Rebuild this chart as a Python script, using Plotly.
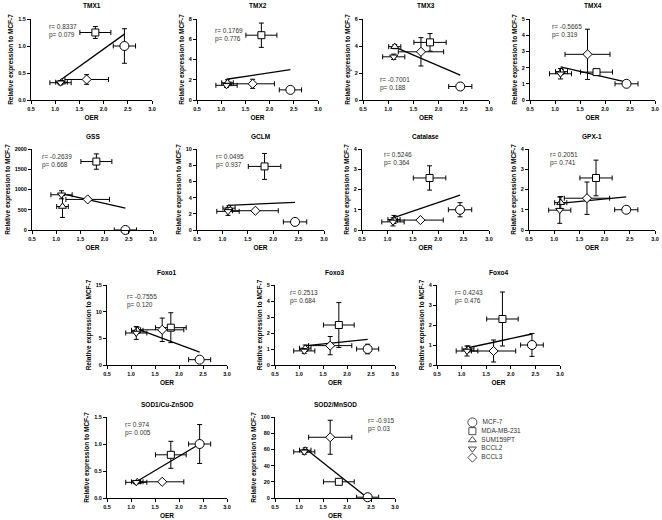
import plotly.graph_objects as go

# cell lines, in legend order
cell_lines = ["MCF-7", "MDA-MB-231", "SUM159PT", "BCCL2", "BCCL3"]
oer = [2.43, 1.83, 1.13, 1.11, 1.65]
oer_err = [0.23, 0.32, 0.12, 0.22, 0.45]

genes = ["TMX1", "TMX2", "TMX3", "TMX4", "GSS", "GCLM", "Catalase", "GPX-1",
         "Foxo1", "Foxo3", "Foxo4", "SOD1/Cu-ZnSOD", "SOD2/MnSOD"]

# relative expression (mean, error) per gene, cell lines in the order above
tmx1 = [1.0, 1.25, 0.33, 0.32, 0.38]
tmx1_err = [0.32, 0.11, 0.03, 0.04, 0.09]
tmx2 = [1.0, 6.4, 1.7, 1.45, 1.6]
tmx2_err = [0.1, 1.2, 0.3, 0.2, 0.45]
tmx3 = [1.0, 4.27, 3.95, 3.2, 3.57]
tmx3_err = [0.05, 0.65, 0.15, 0.2, 1.05]
tmx4 = [1.0, 1.72, 1.75, 1.62, 2.82]
tmx4_err = [0.05, 0.12, 0.15, 0.32, 1.55]
gss = [1, 1690, 580, 870, 755]
gss_err = [0, 190, 270, 100, 20]
gclm = [1.0, 7.85, 2.7, 2.3, 2.38]
gclm_err = [0.05, 1.6, 0.3, 0.5, 0.1]
catalase = [1.0, 2.57, 0.52, 0.4, 0.49]
catalase_err = [0.35, 0.6, 0.2, 0.2, 0.03]
gpx1 = [1.0, 2.57, 1.35, 0.98, 1.57]
gpx1_err = [0.05, 0.88, 0.3, 0.65, 0.8]
foxo1 = [1.0, 7.0, 6.5, 6.0, 6.6]
foxo1_err = [0.2, 2.8, 0.6, 1.2, 2.2]
foxo3 = [1.0, 2.5, 1.05, 0.88, 1.21]
foxo3_err = [0.3, 1.4, 0.2, 0.15, 0.57]
foxo4 = [1.0, 2.3, 0.8, 0.7, 0.7]
foxo4_err = [0.57, 1.35, 0.15, 0.25, 0.55]
sod1 = [1.0, 0.8, 0.3, 0.29, 0.3]
sod1_err = [0.36, 0.25, 0.02, 0.03, 0.01]
sod2 = [1, 20, 59, 57, 75]
sod2_err = [0.5, 2, 3, 3, 21]

expr = [tmx1, tmx2, tmx3, tmx4, gss, gclm, catalase, gpx1, foxo1, foxo3, foxo4, sod1, sod2]
expr_err = [tmx1_err, tmx2_err, tmx3_err, tmx4_err, gss_err, gclm_err, catalase_err,
            gpx1_err, foxo1_err, foxo3_err, foxo4_err, sod1_err, sod2_err]

# regression line value at lowest and highest OER
fit_start = [0.37, 2.05, 3.95, 2.05, 900, 3.05, 0.6, 1.31, 6.8, 1.2, 0.85, 0.3, 62]
fit_end = [1.22, 3.0, 1.85, 1.1, 540, 3.4, 1.72, 1.64, 2.4, 1.6, 1.55, 1.0, 0]

r_values = ["0.8337", "0.1769", "-0.7001", "-0.5665", "-0.2639", "0.0495", "0.5246",
            "0.2051", "-0.7555", "0.2513", "0.4243", "0.974", "-0.915"]
p_values = ["0.079", "0.776", "0.188", "0.319", "0.668", "0.937", "0.364",
            "0.741", "0.120", "0.684", "0.476", "0.005", "0.03"]

y_max = [1.5, 8, 6, 5, 2000, 10, 4, 4, 15, 5, 4, 1.5, 100]
y_step = [0.5, 2, 2, 1, 500, 2, 1, 1, 5, 1, 1, 0.5, 20]

# ---- styling ----
W, H = 662, 520
# panel boxes in pixels: left, right, top, bottom
boxes = [(31, 152, 19, 100), (197, 318, 19, 100), (363, 489, 19, 100), (530, 655, 19, 100),
         (32, 153, 149, 230), (197, 324, 149, 230), (362, 489, 149, 230), (529, 655, 149, 230),
         (107, 227, 285, 365), (275, 395, 285, 365), (437, 560, 285, 365),
         (107, 227, 417, 498), (275, 395, 417, 498)]
# where the r / p text sits (axis-domain coords)
rp_pos = [(0.13, 0.98), (0.13, 0.93), (0.12, 0.32), (0.16, 0.97), (0.07, 0.97), (0.13, 0.97),
          (0.16, 1.0), (0.15, 1.0), (0.15, 0.93), (0.11, 0.98), (0.13, 0.98), (0.13, 0.98),
          (0.76, 1.02)]

symbols = ["circle", "square", "triangle-up", "triangle-down", "diamond"]
sizes = [9, 7, 7, 7, 7]
FONT = "Liberation Sans, Arial, sans-serif"

fig = go.Figure()
annotations = []

for i, gene in enumerate(genes):
    n = "" if i == 0 else str(i + 1)
    xa, ya = "x" + n, "y" + n
    l, r, t, b = boxes[i]

    # regression line
    fig.add_trace(go.Scatter(
        x=[min(oer), max(oer)], y=[fit_start[i], fit_end[i]],
        mode="lines", line=dict(color="black", width=1.3),
        xaxis=xa, yaxis=ya, showlegend=False, hoverinfo="skip"))

    for k in range(len(cell_lines)):
        fig.add_trace(go.Scatter(
            x=[oer[k]], y=[expr[i][k]], mode="markers",
            name=cell_lines[k], xaxis=xa, yaxis=ya, showlegend=False,
            cliponaxis=False,
            error_x=dict(type="data", array=[oer_err[k]], color="black", thickness=1, width=2.5),
            error_y=dict(type="data", array=[expr_err[i][k]], color="black", thickness=1, width=2.5),
            marker=dict(symbol=symbols[k], size=sizes[k], color="white",
                        line=dict(color="black", width=1))))

    fig.layout["xaxis" + n] = dict(
        domain=[l / W, r / W], anchor=ya, range=[0.5, 3.0], tick0=0.5, dtick=0.5,
        tickformat=".1f", showline=True, linecolor="black", linewidth=1,
        ticks="outside", ticklen=3, tickwidth=1, tickcolor="black",
        showgrid=False, zeroline=False, automargin=False,
        tickfont=dict(size=5.5, color="black", family=FONT, weight="bold"),
        title=dict(text="OER", standoff=4,
                   font=dict(size=6.5, color="black", family=FONT, weight="bold")))
    fig.layout["yaxis" + n] = dict(
        domain=[1 - b / H, 1 - t / H], anchor=xa, range=[0, y_max[i]], tick0=0,
        dtick=y_step[i], tickformat=".1f" if y_step[i] < 1 else "",
        showline=True, linecolor="black", linewidth=1,
        ticks="outside", ticklen=3, tickwidth=1, tickcolor="black",
        showgrid=False, zeroline=False, automargin=False,
        tickfont=dict(size=5.5, color="black", family=FONT, weight="bold"),
        title=dict(text="Relative expression to MCF-7", standoff=3,
                   font=dict(size=6.5, color="black", family=FONT, weight="bold")))

    annotations.append(dict(
        text=gene, xref=xa + " domain", yref=ya + " domain", x=0.5, y=1,
        yanchor="middle", yshift=13, showarrow=False,
        font=dict(size=6.5, color="black", family=FONT, weight="bold")))
    annotations.append(dict(
        text="r= %s<br>p= %s" % (r_values[i], p_values[i]),
        xref=xa + " domain", yref=ya + " domain", x=rp_pos[i][0], y=rp_pos[i][1],
        xanchor="left", yanchor="top", align="left", showarrow=False,
        font=dict(size=6.5, color="#333333", family=FONT)))

# hand-made legend on its own hidden axis
legend_rows = list(range(len(cell_lines)))[::-1]
fig.add_trace(go.Scatter(
    x=[0] * len(cell_lines), y=legend_rows, mode="markers+text",
    text=["  " + c for c in cell_lines], textposition="middle right",
    textfont=dict(size=6.5, color="#333333", family=FONT),
    marker=dict(symbol=symbols, size=sizes, color="white", line=dict(color="black", width=1)),
    xaxis="x14", yaxis="y14", showlegend=False, hoverinfo="skip", cliponaxis=False))
fig.layout["xaxis14"] = dict(domain=[468 / W, 560 / W], anchor="y14", range=[-0.05, 1],
                             visible=False, fixedrange=True)
fig.layout["yaxis14"] = dict(domain=[1 - 462 / H, 1 - 418 / H], anchor="x14", range=[-0.5, 4.5],
                             visible=False, fixedrange=True)

fig.update_layout(
    width=W, height=H, margin=dict(l=0, r=0, t=0, b=0),
    paper_bgcolor="white", plot_bgcolor="white",
    annotations=annotations, showlegend=False,
    font=dict(family=FONT, color="black"))

# the page's default body margin would push the figure off the window
fig.write_html("out.html", config={"displayModeBar": False},
               post_script="document.body.style.margin = '0';")
